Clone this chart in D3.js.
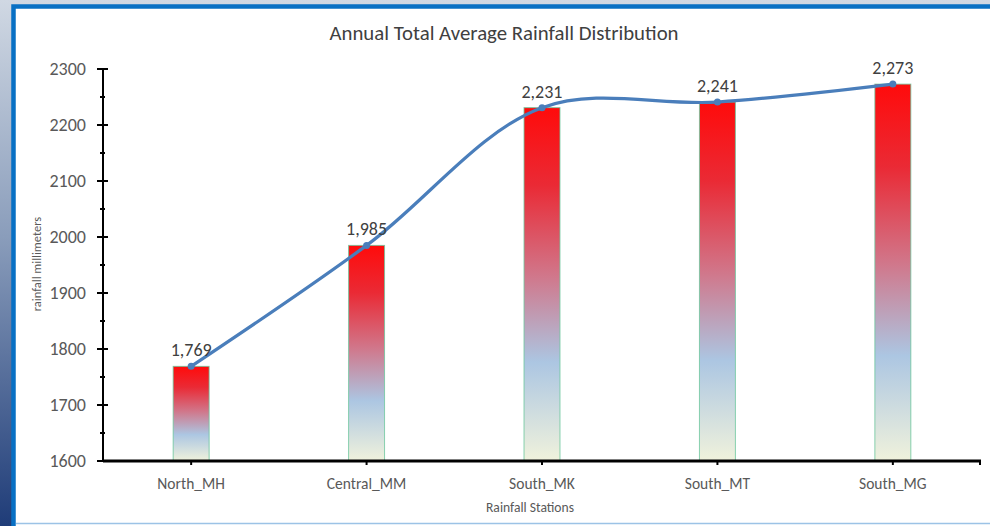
<!DOCTYPE html>
<html>
<head>
<meta charset="utf-8">
<script src="https://cdn.jsdelivr.net/npm/d3@7"></script>
<style>
  html, body { margin: 0; padding: 0; overflow: hidden; }
  body { width: 990px; height: 526px; }
  text { font-family: Carlito, "Open Sans", "Liberation Sans", sans-serif; }
</style>
</head>
<body>
<div id="chart"></div>
<script>
const stations = ["North_MH", "Central_MM", "South_MK", "South_MT", "South_MG"];
const rainfall = [1769, 1985, 2231, 2241, 2273];
const yTicks = [1600, 1700, 1800, 1900, 2000, 2100, 2200, 2300];

const width = 990;
const height = 526;
const margin = { top: 69, right: 9, bottom: 65, left: 103 };

const data = stations.map((s, i) => ({ station: s, value: rainfall[i] }));

const svg = d3.select("#chart").append("svg")
  .attr("width", width)
  .attr("height", height);

const defs = svg.append("defs");

// outer background
const bg = defs.append("linearGradient").attr("id", "bg-grad")
  .attr("x1", 0).attr("y1", 0).attr("x2", 0).attr("y2", 1);
bg.append("stop").attr("offset", "0%").attr("stop-color", "#d0d8e3");
bg.append("stop").attr("offset", "45%").attr("stop-color", "#8a9dbb");
bg.append("stop").attr("offset", "100%").attr("stop-color", "#1f3c78");

// bar fill
const bar = defs.append("linearGradient").attr("id", "bar-grad")
  .attr("x1", 0).attr("y1", 0).attr("x2", 0).attr("y2", 1);
bar.append("stop").attr("offset", "0%").attr("stop-color", "#ff0b0b");
bar.append("stop").attr("offset", "22%").attr("stop-color", "#ea2a35");
bar.append("stop").attr("offset", "48%").attr("stop-color", "#d0788c");
bar.append("stop").attr("offset", "72%").attr("stop-color", "#acc6e2");
bar.append("stop").attr("offset", "100%").attr("stop-color", "#f0f2dc");

svg.append("rect").attr("width", width).attr("height", height).attr("fill", "url(#bg-grad)");

svg.append("rect")
  .attr("x", 13.5).attr("y", 6.5)
  .attr("width", width).attr("height", height)
  .attr("fill", "#ffffff")
  .attr("stroke", "#0870c4")
  .attr("stroke-width", 4.5);

svg.append("line")
  .attr("x1", 16).attr("x2", width)
  .attr("y1", 523.5).attr("y2", 523.5)
  .attr("stroke", "#9cc3e6").attr("stroke-width", 1.5);

const x = d3.scaleBand()
  .domain(stations)
  .range([margin.left, width - margin.right])
  .paddingInner(0.795)
  .paddingOuter(0.4);

const y = d3.scaleLinear()
  .domain([1600, 2300])
  .range([height - margin.bottom, margin.top]);

const cx = (d) => x(d.station) + x.bandwidth() / 2;

// title
svg.append("text")
  .attr("x", 504).attr("y", 40)
  .attr("text-anchor", "middle")
  .attr("font-size", 20.8)
  .attr("fill", "#404040")
  .text("Annual Total Average Rainfall Distribution");

// bars
svg.append("g").selectAll("rect").data(data).join("rect")
  .attr("x", (d) => x(d.station))
  .attr("y", (d) => y(d.value))
  .attr("width", x.bandwidth())
  .attr("height", (d) => y(1600) - y(d.value))
  .attr("fill", "url(#bar-grad)")
  .attr("stroke", "#6cc59c")
  .attr("stroke-opacity", 0.8)
  .attr("stroke-width", 1);

// y axis
const yAxisG = svg.append("g").attr("transform", `translate(${margin.left},0)`);
yAxisG.append("line")
  .attr("x1", 0).attr("x2", 0)
  .attr("y1", y(2300)).attr("y2", y(1600))
  .attr("stroke", "#000").attr("stroke-width", 2);
yAxisG.selectAll(".major").data(yTicks).join("line")
  .attr("class", "major")
  .attr("x1", -6).attr("x2", 5)
  .attr("y1", (d) => y(d)).attr("y2", (d) => y(d))
  .attr("stroke", "#000").attr("stroke-width", 2);
yAxisG.selectAll(".minor").data(yTicks.slice(0, -1).map((d) => d + 50)).join("line")
  .attr("class", "minor")
  .attr("x1", -3).attr("x2", 2)
  .attr("y1", (d) => y(d)).attr("y2", (d) => y(d))
  .attr("stroke", "#000").attr("stroke-width", 2);
yAxisG.selectAll("text").data(yTicks).join("text")
  .attr("x", -17)
  .attr("y", (d) => y(d))
  .attr("dy", "0.35em")
  .attr("text-anchor", "end")
  .attr("font-size", 18)
  .attr("fill", "#595959")
  .text((d) => d);

// x axis
const xAxisG = svg.append("g").attr("transform", `translate(0,${y(1600)})`);
xAxisG.append("line")
  .attr("x1", margin.left).attr("x2", width - margin.right)
  .attr("stroke", "#000").attr("stroke-width", 3);
xAxisG.selectAll(".tick").data(data).join("line")
  .attr("class", "tick")
  .attr("x1", cx).attr("x2", cx)
  .attr("y1", 0).attr("y2", 4)
  .attr("stroke", "#000").attr("stroke-width", 2);
xAxisG.append("line")
  .attr("x1", width - margin.right - 1).attr("x2", width - margin.right - 1)
  .attr("y1", 0).attr("y2", 4)
  .attr("stroke", "#000").attr("stroke-width", 2);
xAxisG.selectAll("text").data(data).join("text")
  .attr("x", cx)
  .attr("y", 28)
  .attr("text-anchor", "middle")
  .attr("font-size", 15.5)
  .attr("fill", "#595959")
  .text((d) => d.station);

// axis titles
svg.append("text")
  .attr("x", 530).attr("y", 512)
  .attr("text-anchor", "middle")
  .attr("font-size", 13.6)
  .attr("fill", "#595959")
  .text("Rainfall Stations");

svg.append("text")
  .attr("transform", `translate(41,${(y(2300) + y(1600)) / 2 - 1}) rotate(-90)`)
  .attr("text-anchor", "middle")
  .attr("font-size", 12.5)
  .attr("fill", "#595959")
  .text("rainfall millimeters");

// smooth line
const line = d3.line()
  .x(cx)
  .y((d) => y(d.value))
  .curve(d3.curveCatmullRom.alpha(0.5));

svg.append("path")
  .datum(data)
  .attr("d", line)
  .attr("fill", "none")
  .attr("stroke", "#4a7ebb")
  .attr("stroke-width", 3.2);

svg.append("g").selectAll("circle").data(data).join("circle")
  .attr("cx", cx)
  .attr("cy", (d) => y(d.value))
  .attr("r", 3.5)
  .attr("fill", "#4a7ebb");

// value labels
svg.append("g").selectAll("text").data(data).join("text")
  .attr("x", cx)
  .attr("y", (d) => y(d.value) - 10)
  .attr("text-anchor", "middle")
  .attr("font-size", 18)
  .attr("fill", "#404040")
  .text((d) => d3.format(",")(d.value));
</script>
</body>
</html>
